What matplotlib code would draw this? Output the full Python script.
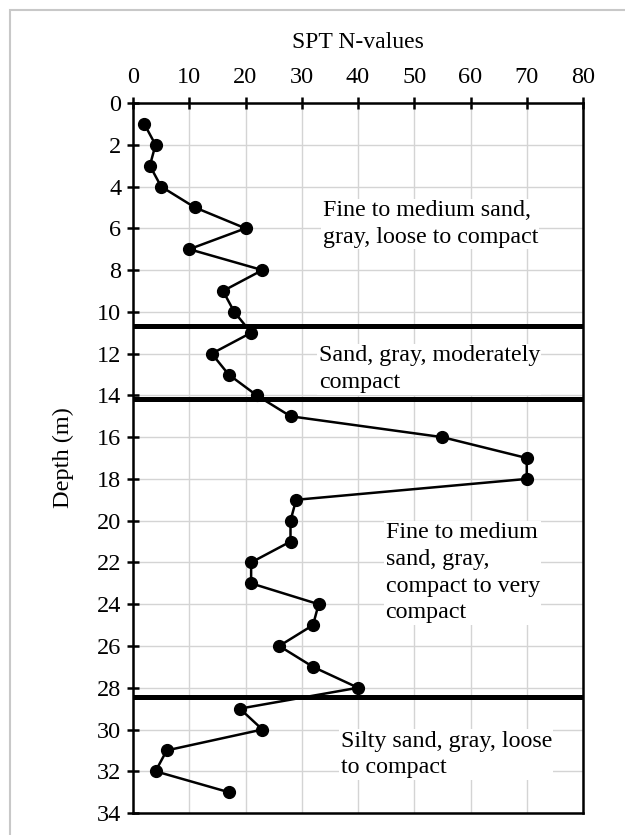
import matplotlib.pyplot as plt
from matplotlib.patches import Rectangle

plt.rcParams['font.family'] = ['Liberation Serif', 'DejaVu Serif']

# SPT profile
depth = [1, 2, 3, 4, 5, 6, 7, 8, 9, 10, 11, 12, 13, 14, 15, 16, 17,
         18, 19, 20, 21, 22, 23, 24, 25, 26, 27, 28, 29, 30, 31, 32, 33]
n_values = [2, 4, 3, 5, 11, 20, 10, 23, 16, 18, 21, 14, 17, 22, 28, 55, 70,
            70, 29, 28, 28, 21, 21, 33, 32, 26, 32, 40, 19, 23, 6, 4, 17]

# layer boundaries (m)
boundaries = [10.7, 14.15, 28.45]

layer_text = [
    "Fine to medium sand,\ngray, loose to compact",
    "Sand, gray, moderately\ncompact",
    "Fine to medium\nsand, gray,\ncompact to very\ncompact",
    "Silty sand, gray, loose\nto compact",
]
layer_x = [33.7, 33.0, 44.9, 36.9]
layer_y = [5.8, 12.75, 22.5, 31.2]

fig = plt.figure(figsize=(6.25, 8.35), dpi=100)
fig.patches.append(Rectangle((0.016, -0.1), 1.2, 1.088, transform=fig.transFigure,
                             fill=False, edgecolor='#c8c8c8', lw=1.5))
ax = fig.add_axes([0.2128, 0.0263, 0.72, 0.8503])

ax.plot(n_values, depth, '-o', color='black', lw=1.8, ms=8.5, zorder=4)

for b in boundaries:
    ax.axhline(b, color='black', lw=3.6, zorder=3)

for t, x, y in zip(layer_text, layer_x, layer_y):
    ax.text(x, y, t, ha='left', va='center', fontsize=17.3, linespacing=1.35,
            bbox=dict(facecolor='white', edgecolor='none', pad=1), zorder=2)

ax.set_xlim(0, 80)
ax.set_ylim(34, 0)
ax.set_xticks(range(0, 81, 10))
ax.set_yticks(range(0, 35, 2))
ax.xaxis.tick_top()
ax.xaxis.set_label_position('top')
ax.set_xlabel('SPT N-values', fontsize=17, labelpad=14)
ax.set_ylabel('Depth (m)', fontsize=17.5, labelpad=16)
ax.tick_params(labelsize=17.5, direction='inout', length=9, width=1.8, pad=4)
ax.tick_params(axis='x', pad=6)
ax.grid(True, color='#d4d4d4', lw=1)
ax.set_axisbelow(True)
for s in ax.spines.values():
    s.set_linewidth(1.8)

fig.savefig('out.png', dpi=100)
